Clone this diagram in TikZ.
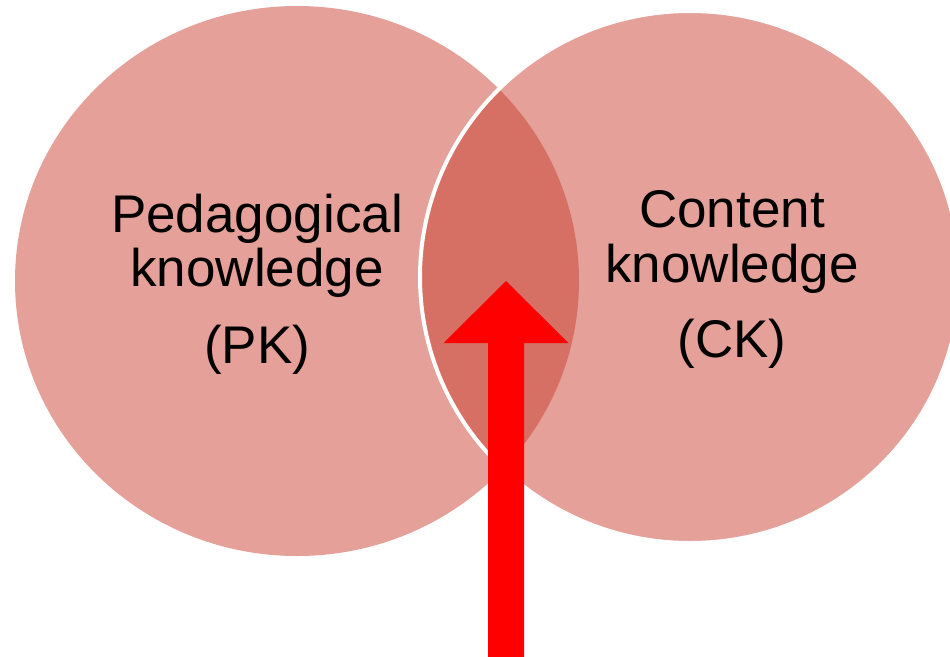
\documentclass[tikz,border=0pt]{standalone}
\usepackage{fontspec}
\setmainfont{Liberation Sans}
\definecolor{circfill}{RGB}{201,65,51}
\definecolor{arrowred}{RGB}{255,0,0}
\begin{document}
\begin{tikzpicture}[x=1pt,y=-1pt,
  circ/.style={fill=circfill,fill opacity=0.5},
  lbl/.style={anchor=base,inner sep=0pt,font=\fontsize{53}{54}\selectfont}]
\useasboundingbox (0,0) rectangle (950,656);
\clip (0,0) rectangle (950,656);
% circles
\path[circ] (297,281) ellipse [x radius=282, y radius=275];
\path[circ,draw=white,draw opacity=1,line width=4] (690,277) ellipse [x radius=270, y radius=266];
% labels
\node[lbl] (pk1) at (257,232) {Pedagogical};
\node[lbl] (pk2) at (257,286) {knowledge};
\node[lbl] (pk3) at (257,363) {(PK)};
\node[lbl] (ck1) at (732,227) {Content};
\node[lbl] (ck2) at (732,282) {knowledge};
\node[lbl] (ck3) at (732,357) {(CK)};
% arrow
\fill[arrowred] (488,660) -- (488,343) -- (443.5,343) -- (506,281) -- (568.5,343) -- (524,343) -- (524,660) -- cycle;
\end{tikzpicture}
\end{document}
